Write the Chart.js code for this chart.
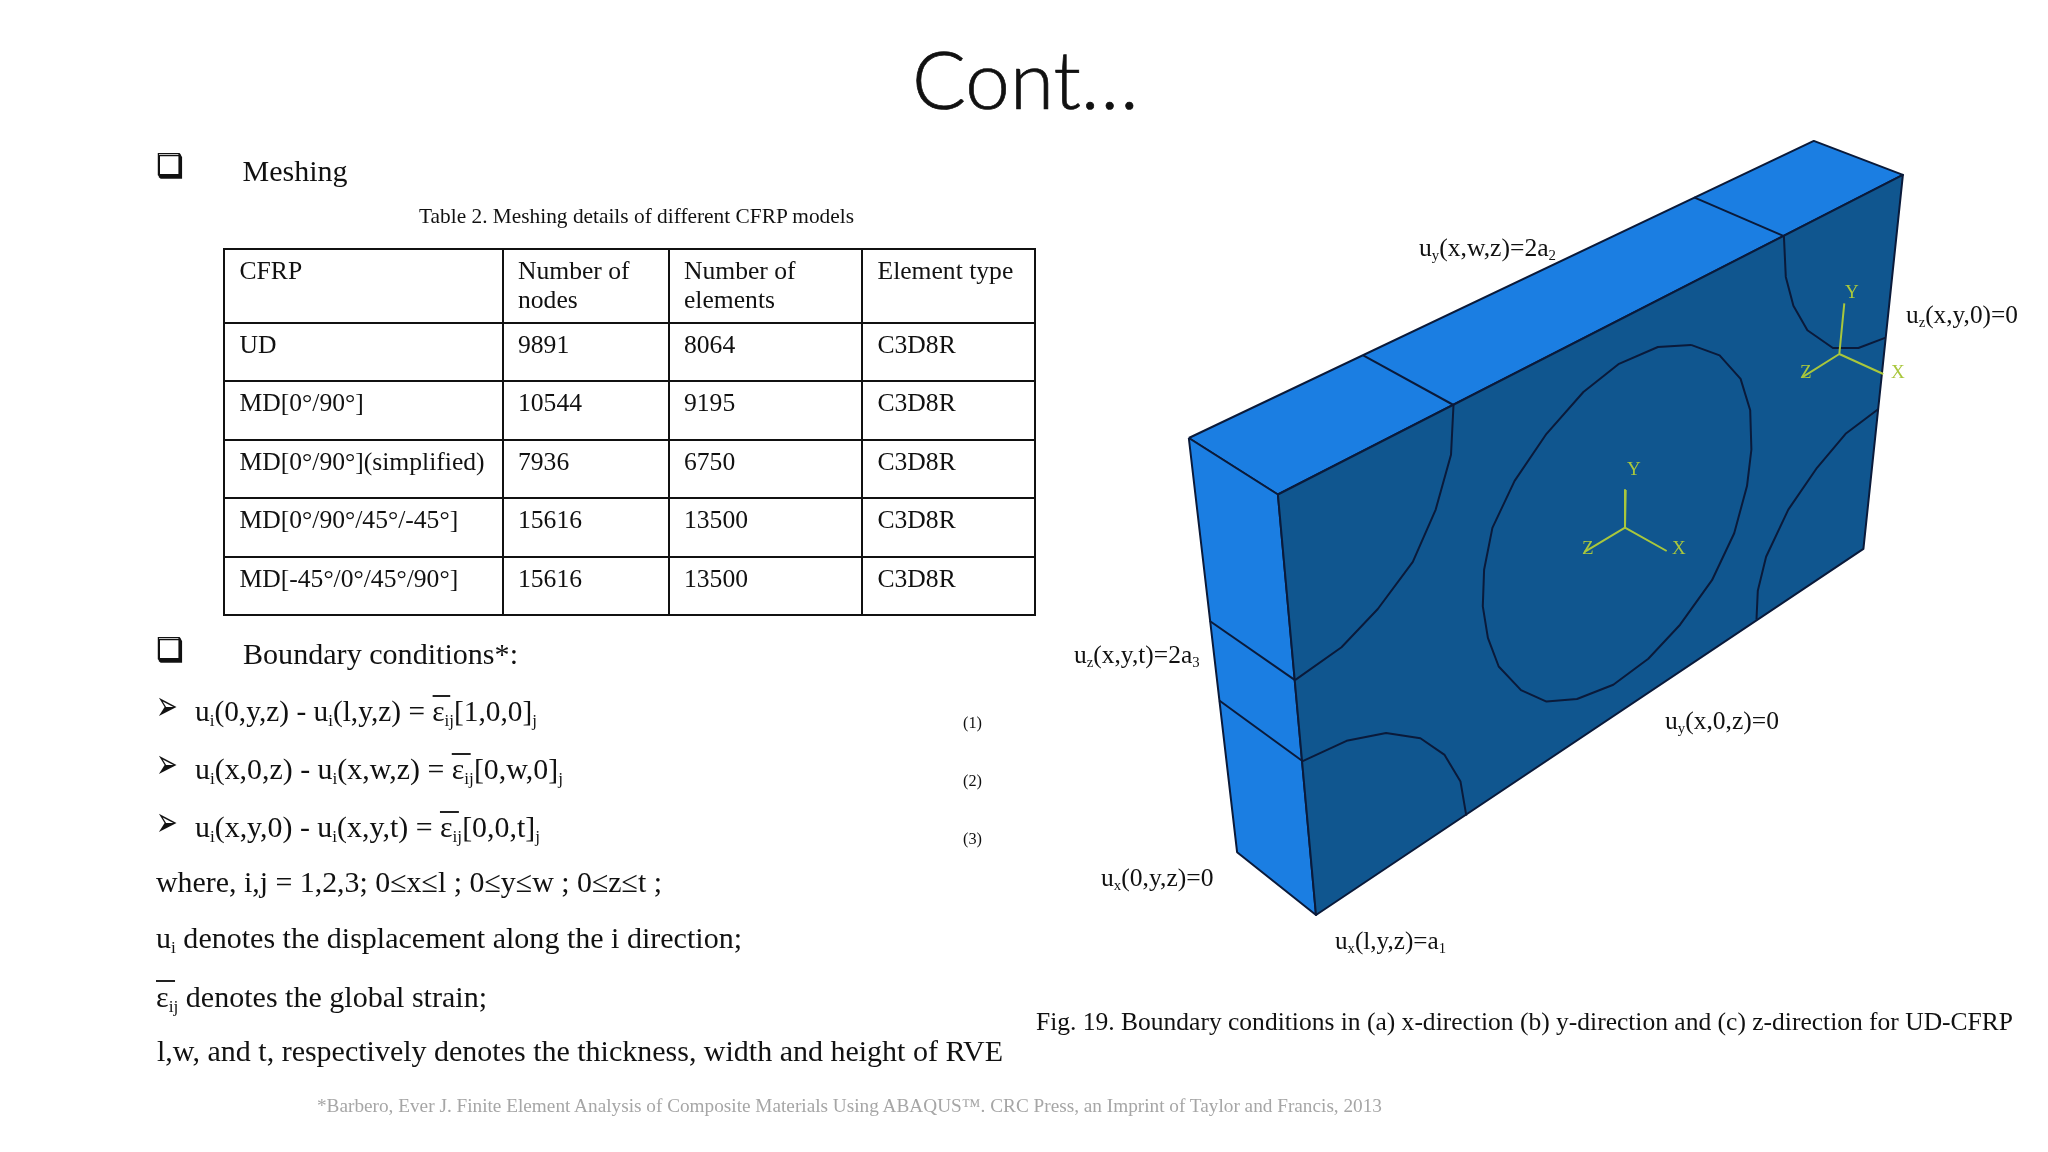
<!DOCTYPE html>
<html><head><meta charset="utf-8">
<script src="https://cdn.jsdelivr.net/npm/chart.js@4"></script>
<style>
html,body{margin:0;padding:0;background:#fff;width:2048px;height:1152px;overflow:hidden}
#wrap{position:absolute;left:0;top:0;width:2048px;height:1152px}
canvas{position:absolute;left:0;top:0}
.t{position:absolute;white-space:nowrap;line-height:0;font-family:"Liberation Serif",serif;color:#111;transform-origin:0 50%}
.t sub,td sub{font-size:58%;line-height:0;vertical-align:-0.28em}
.b{position:relative;display:inline-block;line-height:0}
.b::before{content:"";position:absolute;left:0;width:.62em;top:-.55em;height:2px;background:#222}
.g{position:absolute;font-family:"DejaVu Sans",sans-serif;line-height:0;color:#111}
.m{position:absolute;font-family:"Liberation Serif",serif;line-height:0;font-size:19px;color:#a9c73c}
table{position:absolute;left:223px;top:248px;width:810.5px;border-collapse:collapse;table-layout:fixed;font-family:"Liberation Serif",serif;font-size:25.6px;line-height:28.5px;color:#111}
td{border:2.4px solid #111;padding:7px 0 0 14.5px;vertical-align:top;box-sizing:border-box;white-space:nowrap}
</style></head><body>
<div id="wrap"><canvas id="c" width="2048" height="1152"></canvas><div id="texts"></div></div>
<script>
// Table content
const tableHeader=["CFRP","Number of<br>nodes","Number of<br>elements","Element type"];
const models=["UD","MD[0°/90°]","MD[0°/90°](simplified)","MD[0°/90°/45°/-45°]","MD[-45°/0°/45°/90°]"];
const nodes=[9891,10544,7936,15616,15616];
const elements=[8064,9195,6750,13500,13500];
const elementType=["C3D8R","C3D8R","C3D8R","C3D8R","C3D8R"];
// Figure outline series
const topFace=[[1188.8,438],[1813.8,140.9],[1902.9,174.9],[1277.9,494.5],[1188.8,438]];
const sideFace=[[1188.8,438],[1277.9,494.5],[1316,915],[1237.1,852.2],[1188.8,438]];
const frontFace=[[1277.9,494.5],[1902.9,174.9],[1863.4,548.9],[1316,915],[1277.9,494.5]];
const seamTop1=[[1363.2,355.4],[1453.5,405]];
const seamTop2=[[1694.1,197.4],[1783.9,236.1]];
const seamSide1=[[1209.8,621],[1295,680.1]];
const seamSide2=[[1219.3,700.5],[1302.7,761.2]];
const arcTopLeft=[[1453.5,405],[1451,454.7],[1435.7,509.6],[1412.8,561.9],[1377.8,609],[1341.5,647.2],[1295,680.1]];
const arcTopRight=[[1783.9,236.1],[1785.8,276.9],[1793.4,305.7],[1807.4,330.2],[1832.9,348],[1858.4,348],[1885.7,337.6]];
const arcBottomLeft=[[1302.7,761.2],[1346.6,740.8],[1386.1,733],[1420.4,738.2],[1444.6,754.9],[1460.5,781.6],[1466.3,815.6]];
const arcBottomRight=[[1878.1,409.2],[1845.6,433.8],[1817,467.8],[1788.3,509.6],[1766.1,556.7],[1757.8,590.7],[1756.5,619.5]];
const ellipse=[[1691,344.9],[1657.9,347],[1618.4,364.2],[1583.4,392],[1546.5,433.8],[1514.6,480.9],[1492.4,527.9],[1484.1,569.8],[1482.8,606.4],[1487.9,637.8],[1498.7,666.5],[1521,690.1],[1546.5,701.6],[1577,699],[1613.3,684.8],[1648.3,658.7],[1680.1,624.7],[1712,580.2],[1734.2,533.2],[1747,486.1],[1751.4,449.5],[1750.2,410.3],[1740.6,378.9],[1719.6,355.4],[1691,344.9]];
const triadCenter=[[1625.7,490],[1625,527.7],[1585,551.7],[1625,527.7],[1666.7,551]];
const triadRight=[[1844.3,303.3],[1839.3,354],[1803.3,376.7],[1839.3,354],[1883.3,374]];

const lineDark="#0a1a3a", light="#1b7ee2", dark="#10568f", green="#a9c73c";
const pts=a=>a.map(p=>({x:p[0],y:p[1]}));
const line=(a,c,w)=>({data:pts(a),showLine:true,pointRadius:0,borderColor:c||lineDark,borderWidth:w||2,fill:false,tension:0,clip:false,borderJoinStyle:"round"});
const face=(a,c)=>({data:pts(a),showLine:true,pointRadius:0,borderColor:lineDark,borderWidth:2,backgroundColor:c,fill:"shape",tension:0,clip:false,borderJoinStyle:"round"});
new Chart(document.getElementById("c"),{
 type:"scatter",
 data:{datasets:[
  line(triadCenter,green,2),line(triadRight,green,2),
  line(seamTop1),line(seamTop2),line(seamSide1),line(seamSide2),
  line(arcTopLeft),line(arcTopRight),line(arcBottomLeft),line(arcBottomRight),line(ellipse),
  face(frontFace,dark),face(sideFace,light),face(topFace,light)
 ]},
 options:{responsive:false,animation:false,layout:{padding:0},
  plugins:{legend:{display:false},title:{display:false},tooltip:{enabled:false}},
  scales:{x:{type:"linear",min:0,max:2048,display:false},y:{type:"linear",min:0,max:1152,reverse:true,display:false}}}
});

// Table
const tbl=document.createElement("table");
const widths=[278.5,166,193.5,172.5], heights=[74.4,58,58.6,58.4,58.3,58];
let h="<colgroup>"+widths.map(w=>`<col style="width:${w}px">`).join("")+"</colgroup>";
h+=`<tr style="height:${heights[0]}px">`+tableHeader.map(c=>`<td>${c}</td>`).join("")+"</tr>";
models.forEach((m,i)=>{h+=`<tr style="height:${heights[i+1]}px"><td>${m}</td><td>${nodes[i]}</td><td>${elements[i]}</td><td>${elementType[i]}</td></tr>`;});
tbl.innerHTML=h;document.getElementById("texts").appendChild(tbl);

// Slide text: [html, left, baseline, size, targetWidth, colour]
const eps='<span class="b">ε</span>';
const slideText=[
 ["Meshing",242.6,181,30,105],
 ["Table 2. Meshing details of different CFRP models",418.8,223,22,435],
 ["Boundary conditions*:",243,664,30,275],
 [`u<sub>i</sub>(0,y,z) - u<sub>i</sub>(l,y,z) = ${eps}<sub>ij</sub>[1,0,0]<sub>j</sub>`,195,721.5,30,342],
 [`u<sub>i</sub>(x,0,z) - u<sub>i</sub>(x,w,z) = ${eps}<sub>ij</sub>[0,w,0]<sub>j</sub>`,195,779.5,30,368],
 [`u<sub>i</sub>(x,y,0) - u<sub>i</sub>(x,y,t) = ${eps}<sub>ij</sub>[0,0,t]<sub>j</sub>`,195,837.5,30,345],
 ["(1)",963,728,17.5,19],["(2)",963,786,17.5,19],["(3)",963,844,17.5,19],
 ["where, i,j = 1,2,3; 0≤x≤l ; 0≤y≤w ; 0≤z≤t ;",156,891.7,30,506],
 ["u<sub>i</sub> denotes the displacement along the i direction;",156,948,30,586],
 [`${eps}<sub>ij</sub> denotes the global strain;`,156,1007,30,331],
 ["l,w, and t, respectively denotes the thickness, width and height of RVE",156.6,1060.7,30,846],
 ["*Barbero, Ever J. Finite Element Analysis of Composite Materials Using ABAQUS™. CRC Press, an Imprint of Taylor and Francis, 2013",317,1113,19.6,1065,"#a6a6a6"],
 ["Fig. 19. Boundary conditions in (a) x-direction (b) y-direction and (c) z-direction for UD-CFRP",1035.6,1031,25.6,977],
 ["u<sub>y</sub>(x,w,z)=2a<sub>2</sub>",1419,257,25.6,137],
 ["u<sub>z</sub>(x,y,0)=0",1905.7,323.7,25.6,112],
 ["u<sub>z</sub>(x,y,t)=2a<sub>3</sub>",1074,664,25.6,125.6],
 ["u<sub>y</sub>(x,0,z)=0",1665,730,25.6,114],
 ["u<sub>x</sub>(0,y,z)=0",1101,887,25.6,112.6],
 ["u<sub>x</sub>(l,y,z)=a<sub>1</sub>",1335,950,25.6,111]
];
const box=document.getElementById("texts");
slideText.forEach(s=>{
 const e=document.createElement("div");e.className="t";e.innerHTML=s[0];
 e.style.left=s[1]+"px";e.style.top=(s[2]-0.3375*s[3])+"px";e.style.fontSize=s[3]+"px";
 if(s[5])e.style.color=s[5];
 box.appendChild(e);
 const w=e.getBoundingClientRect().width;
 if(s[4])e.style.transform=`scaleX(${s[4]/w})`;
});
// Title and bullets
const add=(cls,txt,css)=>{const e=document.createElement("div");e.className=cls;e.textContent=txt;e.style.cssText=css;box.appendChild(e);};
add("t","Cont…",'left:912px;top:78px;font-family:Lato,sans-serif;font-weight:300;font-size:80px;color:#111;-webkit-text-stroke:0.7px #111');
const boxShadow='text-shadow:1px 1.5px 0 #111;font-weight:bold';
add("g","❑",`left:156px;top:165px;font-size:30px;${boxShadow}`);
add("g","❑",`left:156px;top:649px;font-size:30px;${boxShadow}`);
["706","764","822"].forEach(y=>add("g","➢",`left:156px;top:${y}px;font-size:26px;transform:scale(1,1.6);transform-origin:0 0`));
[["Y",1627,469],["Z",1582,548],["X",1672,548],["Y",1845,292],["Z",1800,372],["X",1891,372]].forEach(a=>add("m",a[0],`left:${a[1]}px;top:${a[2]}px`));
</script>
</body></html>
